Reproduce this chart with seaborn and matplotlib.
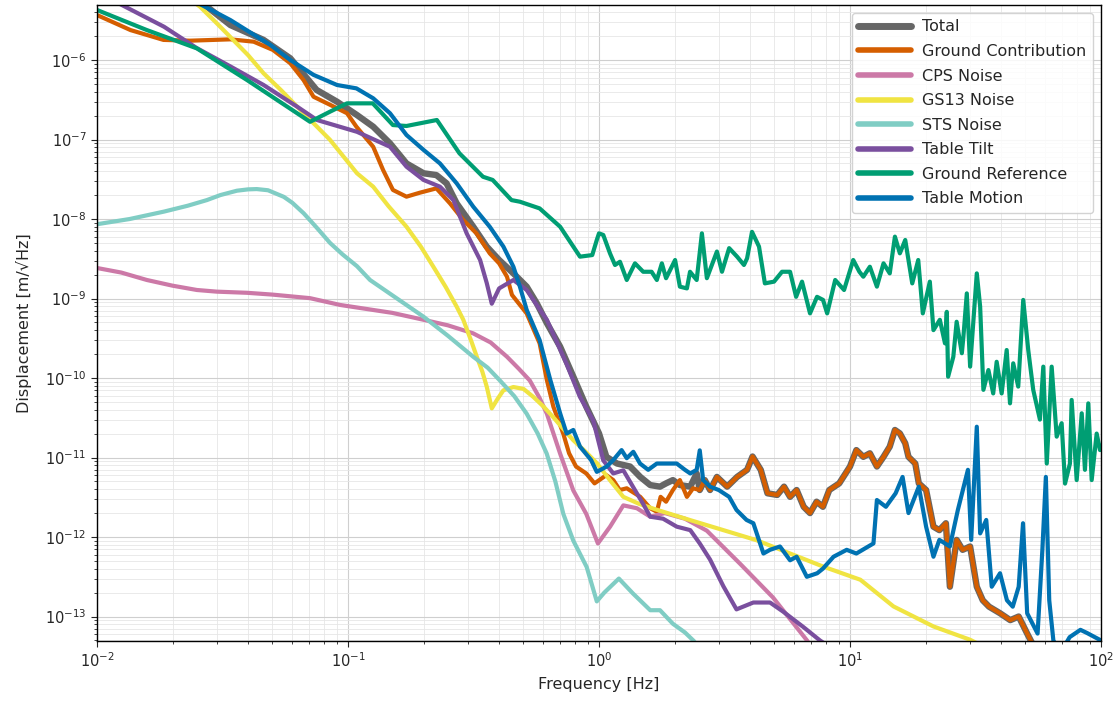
import numpy as np
import pandas as pd
import matplotlib
matplotlib.use("Agg")
import matplotlib.pyplot as plt
import matplotlib.ticker as mticker
import seaborn as sns

# ---------------- data ----------------
total_f = [0.026, 0.0274, 0.034, 0.0461, 0.0589, 0.075, 0.0904, 0.1086, 0.126, 0.147, 0.171, 0.2, 0.225,
           0.247, 0.271, 0.3155, 0.357, 0.40, 0.456, 0.515, 0.565, 0.62, 0.70, 0.79, 0.89, 1.0, 1.07, 1.18,
           1.33, 1.46, 1.60, 1.75, 1.85, 1.97, 2.10, 2.31, 2.45,
           2.52, 2.64, 2.77, 2.95, 3.24, 3.55, 3.89, 4.09, 4.41, 4.69, 5.13, 5.46, 5.77, 6.13, 6.54, 6.93,
           7.36, 7.8, 8.27, 9.06, 10.0, 10.6, 11.3, 12.0, 12.8, 13.6, 14.4, 15.1, 15.8, 16.6, 17.1, 18.2,
           18.8, 20.1, 21.5, 22.7, 24.1, 25.0, 26.6, 28.1, 30.1, 32.0, 33.8, 35.8, 39.6, 43.5, 47.0, 50.8, 53.0]
total_v = [5.2e-6, 4.7e-6, 2.75e-6, 1.79e-6, 1.05e-6, 4.2e-7, 2.99e-7, 2.03e-7, 1.45e-7, 8.95e-8, 5.0e-8,
           3.76e-8, 3.57e-8, 2.81e-8, 1.57e-8, 8.0e-9, 4.5e-9, 3.05e-9, 2.07e-9, 1.41e-9, 8.7e-10, 4.9e-10,
           2.48e-10, 1.04e-10, 4.36e-11, 2.01e-11, 1.02e-11, 8.4e-12, 7.7e-12, 5.7e-12, 4.5e-12, 4.3e-12,
           4.73e-12, 5.2e-12, 4.5e-12, 4.3e-12, 6.3e-12,
           3.9e-12, 5.2e-12, 3.9e-12, 5.7e-12, 4.3e-12, 5.7e-12, 7.0e-12, 1.03e-11, 7.0e-12, 3.55e-12,
           3.38e-12, 4.3e-12, 3.2e-12, 3.9e-12, 2.4e-12, 2.0e-12, 2.78e-12, 2.4e-12, 3.9e-12, 4.73e-12,
           7.7e-12, 1.24e-11, 1.02e-11, 1.13e-11, 7.7e-12, 1.02e-11, 1.37e-11, 2.22e-11, 2.01e-11, 1.51e-11,
           1.02e-11, 8.4e-12, 4.73e-12, 3.9e-12, 1.35e-12, 1.22e-12, 1.49e-12, 2.37e-13, 9.2e-13, 6.9e-13,
           7.6e-13, 2.37e-13, 1.6e-13, 1.33e-13, 1.1e-13, 9.0e-14, 1.0e-13, 6.1e-14, 4.7e-14]

ground_f = [0.01, 0.0136, 0.0184, 0.0235, 0.034, 0.0421, 0.0502, 0.0589, 0.0665, 0.0729, 0.0851, 0.0991,
            0.108, 0.126, 0.138, 0.151, 0.171, 0.193, 0.225, 0.255, 0.288, 0.325, 0.367, 0.40, 0.43, 0.45,
            0.515, 0.58, 0.62, 0.658, 0.72, 0.76, 0.81, 0.89, 0.96, 1.07, 1.14, 1.21, 1.29, 1.46, 1.60, 1.70,
            1.76, 1.85, 1.97, 2.10, 2.24, 2.37, 2.52, 2.64, 2.77, 2.95, 3.24, 3.55, 3.89, 4.09, 4.41, 4.69,
            5.13, 5.46, 5.77, 6.13, 6.54, 6.93, 7.36, 7.8, 8.27, 9.06, 10.0, 10.6, 11.3, 12.0, 12.8, 13.6,
            14.4, 15.1, 15.8, 16.6, 17.1, 18.2, 18.8, 20.1, 21.5, 22.7, 24.1, 25.0, 26.6, 28.1, 30.1, 32.0,
            33.8, 35.8, 39.6, 43.5, 47.0, 50.8, 53.0]
ground_v = [3.68e-6, 2.38e-6, 1.79e-6, 1.75e-6, 1.82e-6, 1.70e-6, 1.34e-6, 9.1e-7, 5.6e-7, 3.45e-7, 2.72e-7,
            2.14e-7, 1.45e-7, 8.1e-8, 4.13e-8, 2.32e-8, 1.91e-8, 2.14e-8, 2.43e-8, 1.57e-8, 9.7e-9, 6.6e-9,
            3.7e-9, 2.77e-9, 1.88e-9, 1.11e-9, 6.5e-10, 2.73e-10, 9.4e-11, 4.36e-11, 2.01e-11, 1.13e-11,
            7.7e-12, 6.3e-12, 4.73e-12, 6.0e-12, 5.2e-12, 3.9e-12, 4.1e-12, 3.2e-12, 2.3e-12, 2.08e-12,
            3.2e-12, 2.78e-12, 3.9e-12, 5.2e-12, 3.2e-12, 4.1e-12, 3.9e-12, 5.2e-12, 3.9e-12, 5.7e-12,
            4.3e-12, 5.7e-12, 7.0e-12, 1.03e-11, 7.0e-12, 3.55e-12, 3.38e-12, 4.3e-12, 3.2e-12, 3.9e-12,
            2.4e-12, 2.0e-12, 2.78e-12, 2.4e-12, 3.9e-12, 4.73e-12, 7.7e-12, 1.24e-11, 1.02e-11, 1.13e-11,
            7.7e-12, 1.02e-11, 1.37e-11, 2.22e-11, 2.01e-11, 1.51e-11, 1.02e-11, 8.4e-12, 4.73e-12, 3.9e-12,
            1.35e-12, 1.22e-12, 1.49e-12, 2.37e-13, 9.2e-13, 6.9e-13, 7.6e-13, 2.37e-13, 1.6e-13, 1.33e-13,
            1.1e-13, 9.0e-14, 1.0e-13, 6.1e-14, 4.7e-14]

cps_f = [0.01, 0.0125, 0.0158, 0.02, 0.025, 0.03, 0.0396, 0.05, 0.0706, 0.093, 0.15, 0.2, 0.25, 0.315,
         0.37, 0.43, 0.48, 0.53, 0.58, 0.62, 0.70, 0.79, 0.89, 0.99, 1.107, 1.25, 1.416, 1.6, 1.83, 2.2,
         2.69, 3.65, 4.93, 6.74, 7.5]
cps_v = [2.42e-9, 2.12e-9, 1.71e-9, 1.45e-9, 1.28e-9, 1.22e-9, 1.18e-9, 1.12e-9, 1.01e-9, 8.3e-10, 6.6e-10,
         5.4e-10, 4.6e-10, 3.65e-10, 2.8e-10, 1.85e-10, 1.3e-10, 9.3e-11, 5.6e-11, 3.55e-11, 1.12e-11,
         3.85e-12, 1.95e-12, 8.3e-13, 1.35e-12, 2.5e-12, 2.3e-12, 1.8e-12, 2.0e-12, 1.7e-12, 1.2e-12,
         4.6e-13, 1.74e-13, 5.0e-14, 3.0e-14]

gs13_f = [0.024, 0.0257, 0.03, 0.0339, 0.04, 0.0461, 0.054, 0.0627, 0.0848, 0.1086, 0.126, 0.145, 0.171,
          0.195, 0.219, 0.245, 0.271, 0.288, 0.31, 0.326, 0.343, 0.357, 0.374, 0.395, 0.416, 0.456, 0.5,
          0.547, 0.6, 0.658, 0.72, 0.79, 0.88, 0.98, 1.1, 1.25, 1.45, 1.70, 2.31, 3.13, 4.25, 5.77, 7.83,
          11.0, 14.9, 21.5, 30.1, 35.0]
gs13_v = [5.5e-6, 4.7e-6, 2.9e-6, 1.96e-6, 1.15e-6, 6.8e-7, 4.2e-7, 2.59e-7, 9.9e-8, 3.76e-8, 2.55e-8,
          1.45e-8, 8.0e-9, 4.5e-9, 2.5e-9, 1.4e-9, 7.9e-10, 5.4e-10, 2.9e-10, 1.85e-10, 1.2e-10, 7.8e-11,
          4.15e-11, 5.5e-11, 7.0e-11, 7.7e-11, 7.3e-11, 5.8e-11, 4.4e-11, 3.2e-11, 2.3e-11, 1.65e-11,
          1.2e-11, 8.5e-12, 5.3e-12, 3.2e-12, 2.6e-12, 2.2e-12, 1.63e-12, 1.22e-12, 9.1e-13, 6.2e-13,
          4.24e-13, 2.9e-13, 1.34e-13, 7.5e-14, 5.1e-14, 4.0e-14]

sts_f = [0.01, 0.0135, 0.0185, 0.023, 0.0274, 0.031, 0.0361, 0.04, 0.0433, 0.048, 0.0555, 0.06, 0.0666,
         0.075, 0.0848, 0.095, 0.1086, 0.1224, 0.15, 0.2, 0.25, 0.3155, 0.36, 0.403, 0.46, 0.515, 0.57,
         0.619, 0.67, 0.721, 0.79, 0.893, 0.98, 1.05, 1.2, 1.365, 1.6, 1.75, 1.97, 2.2, 2.39, 2.6]
sts_v = [8.6e-9, 1.0e-8, 1.24e-8, 1.47e-8, 1.73e-8, 2.0e-8, 2.27e-8, 2.36e-8, 2.38e-8, 2.3e-8, 1.9e-8,
         1.6e-8, 1.18e-8, 7.8e-9, 5.0e-9, 3.6e-9, 2.55e-9, 1.71e-9, 1.1e-9, 5.9e-10, 3.4e-10, 1.85e-10,
         1.35e-10, 9.3e-11, 5.9e-11, 3.56e-11, 2.0e-11, 1.12e-11, 5.0e-12, 1.95e-12, 9.0e-13, 4.2e-13,
         1.55e-13, 2.0e-13, 3.0e-13, 1.95e-13, 1.2e-13, 1.2e-13, 8.1e-14, 6.3e-14, 4.9e-14, 3.0e-14]

tilt_f = [0.012, 0.0185, 0.025, 0.034, 0.0461, 0.0627, 0.0752, 0.1086, 0.147, 0.171, 0.2, 0.2325, 0.263,
          0.297, 0.336, 0.357, 0.374, 0.40, 0.456, 0.515, 0.582, 0.62, 0.743, 0.839, 0.948, 1.04, 1.14, 1.25,
          1.365, 1.50, 1.6, 1.80, 2.04, 2.31, 2.52, 2.77, 3.13, 3.53, 4.12, 4.80, 5.42, 6.51, 7.59, 9.0]
tilt_v = [5.3e-6, 2.62e-6, 1.41e-6, 8.3e-7, 4.85e-7, 2.59e-7, 1.76e-7, 1.25e-7, 8.1e-8, 4.55e-8, 3.1e-8,
          2.55e-8, 1.73e-8, 6.6e-9, 3.05e-9, 1.57e-9, 8.6e-10, 1.34e-9, 1.71e-9, 1.28e-9, 7.2e-10, 5.4e-10,
          1.5e-10, 5.8e-11, 2.93e-11, 9.2e-12, 6.3e-12, 6.9e-12, 4.3e-12, 2.6e-12, 1.8e-12, 1.7e-12,
          1.35e-12, 1.22e-12, 8.3e-13, 5.2e-13, 2.4e-13, 1.23e-13, 1.5e-13, 1.5e-13, 1.15e-13, 7.4e-14,
          5.0e-14, 3.5e-14]

gref_f = [0.01, 0.0158, 0.025, 0.0396, 0.0706, 0.0848, 0.0991, 0.1255, 0.151, 0.171, 0.226, 0.278, 0.345,
          0.377, 0.448, 0.484, 0.58, 0.70, 0.79, 0.84, 0.94, 0.98, 1.0, 1.04, 1.106, 1.158, 1.212, 1.29,
          1.391, 1.50, 1.62, 1.70, 1.78, 1.85, 2.01, 2.10, 2.24, 2.305, 2.45, 2.57, 2.69, 2.95, 3.09, 3.30,
          3.55, 3.78, 3.89, 4.07, 4.34, 4.58, 4.98, 5.36, 5.77, 6.10, 6.44, 6.93, 7.39, 7.81, 8.11, 8.73,
          9.47, 10.3, 10.9, 11.3, 12.0, 12.8, 13.6, 14.4, 15.1, 15.8, 16.6, 17.7, 18.7, 19.5,
          20.8, 21.5, 22.8, 23.9, 24.3, 24.6, 25.8, 26.6, 27.9, 28.3, 29.2, 30.1, 32.0, 33.0, 34.0, 35.6,
          37.2, 38.4, 40.2, 42.1, 43.4, 44.7, 46.8, 49.0, 51.3, 53.7, 57.1, 58.9, 60.8, 63.6, 66.6, 69.7,
          71.9, 75.2, 76.4, 80.0, 83.8, 86.3, 89.0, 91.8, 96.1, 99.1, 100.0]
gref_v = [4.26e-6, 2.38e-6, 1.40e-6, 5.6e-7, 1.67e-7, 2.24e-7, 2.85e-7, 2.85e-7, 1.52e-7, 1.48e-7, 1.76e-7,
          6.7e-8, 3.4e-8, 3.1e-8, 1.73e-8, 1.65e-8, 1.36e-8, 8.0e-9, 4.5e-9, 3.36e-9, 3.52e-9, 5.45e-9,
          6.6e-9, 6.3e-9, 3.7e-9, 2.64e-9, 2.9e-9, 1.71e-9, 2.77e-9, 2.17e-9, 2.17e-9, 1.71e-9, 2.77e-9,
          1.8e-9, 3.05e-9, 1.41e-9, 1.34e-9, 2.17e-9, 1.71e-9, 6.6e-9, 1.8e-9, 3.9e-9, 2.17e-9, 4.3e-9,
          3.36e-9, 2.64e-9, 3.2e-9, 6.9e-9, 4.5e-9, 1.55e-9, 1.63e-9, 2.17e-9, 2.17e-9, 1.05e-9, 1.63e-9,
          6.5e-10, 1.05e-9, 9.6e-10, 6.5e-10, 1.71e-9, 1.28e-9, 3.05e-9, 2.17e-9, 1.88e-9, 2.51e-9, 1.41e-9,
          2.77e-9, 2.07e-9, 6.0e-9, 3.7e-9, 5.45e-9, 1.55e-9, 3.05e-9, 6.5e-10,
          1.63e-9, 4.0e-10, 5.4e-10, 2.73e-10, 6.8e-10, 1.04e-10, 1.85e-10, 5.1e-10, 2.05e-10, 3.3e-10,
          1.16e-9, 1.39e-10, 2.07e-9, 7.9e-10, 7.1e-11, 1.26e-10, 6.4e-11, 1.6e-10, 6.4e-11, 2.25e-10,
          4.8e-11, 1.53e-10, 7.8e-11, 9.6e-10, 2.25e-10, 7.1e-11, 3.0e-11, 1.39e-10, 8.4e-12, 1.39e-10,
          1.83e-11, 2.7e-11, 4.7e-12, 8.4e-12, 5.3e-11, 5.2e-12, 3.6e-11, 7.0e-12, 4.8e-11, 5.2e-12,
          2.0e-11, 1.24e-11, 1.4e-11]

table_f = [0.025, 0.034, 0.049, 0.0589, 0.0729, 0.0904, 0.108, 0.126, 0.147, 0.171, 0.2, 0.2325, 0.271,
           0.3155, 0.367, 0.416, 0.456, 0.484, 0.515, 0.58, 0.64, 0.70, 0.743, 0.79, 0.84, 0.93, 0.98, 1.073,
           1.14, 1.23, 1.29, 1.37, 1.457, 1.57, 1.70, 1.95, 2.04, 2.2, 2.31, 2.45, 2.52, 2.6, 2.77, 3.0, 3.3,
           3.53, 3.87, 4.12, 4.52, 4.80, 5.26, 5.77, 6.13, 6.73, 7.4, 7.8, 8.6, 9.7, 10.6, 12.4, 12.8, 13.9,
           15.2, 16.2, 17.1, 18.8, 20.1, 21.5, 22.7, 25.0, 26.9, 29.5, 30.4, 32.0, 33.0, 34.9, 36.7, 39.6,
           42.2, 44.5, 47.0, 48.9, 50.8, 55.9, 58.4, 60.3, 62.2, 64.6, 69.0, 75.0, 82.8, 88.0, 100.0]
table_v = [5.3e-6, 3.18e-6, 1.55e-6, 1.0e-6, 6.5e-7, 4.85e-7, 4.4e-7, 3.3e-7, 2.14e-7, 1.14e-7, 7.4e-8,
           5.0e-8, 2.81e-8, 1.43e-8, 8.0e-9, 4.5e-9, 2.51e-9, 1.41e-9, 7.2e-10, 3.0e-10, 9.4e-11, 3.6e-11,
           2.0e-11, 2.22e-11, 1.37e-11, 9.3e-12, 6.6e-12, 7.7e-12, 9.3e-12, 1.24e-11, 9.8e-12, 1.18e-11,
           8.4e-12, 7.0e-12, 8.4e-12, 8.4e-12, 8.4e-12, 7.0e-12, 6.3e-12, 7.0e-12, 1.23e-11, 5.2e-12,
           4.3e-12, 3.9e-12, 3.2e-12, 2.19e-12, 1.64e-12, 1.49e-12, 6.2e-13, 6.9e-13, 7.6e-13, 5.1e-13,
           5.65e-13, 3.16e-13, 3.5e-13, 4.0e-13, 5.65e-13, 6.9e-13, 6.2e-13, 8.3e-13, 2.92e-12, 2.4e-12,
           3.55e-12, 5.7e-12, 2.0e-12, 4.3e-12, 1.35e-12, 5.65e-13, 9.2e-13, 7.6e-13, 2.19e-12, 7.0e-12,
           9.2e-13, 2.44e-11, 1.11e-12, 1.64e-12, 2.37e-13, 3.5e-13, 1.6e-13, 1.33e-13, 2.37e-13, 1.49e-12,
           1.1e-13, 6.1e-14, 6.9e-13, 5.7e-12, 1.6e-13, 5.0e-14, 3.5e-14, 5.5e-14, 6.8e-14, 6.2e-14, 5.0e-14]

series_names = ["Total", "Ground Contribution", "CPS Noise", "GS13 Noise", "STS Noise",
                "Table Tilt", "Ground Reference", "Table Motion"]
series_colors = ["#666666", "#D55E00", "#CC79A7", "#F0E442", "#80CDC4", "#7A4F9E", "#009E73", "#0072B2"]
series_lw = [4.6, 3.0, 3.0, 3.0, 3.0, 3.0, 3.0, 3.0]
series_data = [(total_f, total_v), (ground_f, ground_v), (cps_f, cps_v), (gs13_f, gs13_v),
               (sts_f, sts_v), (tilt_f, tilt_v), (gref_f, gref_v), (table_f, table_v)]

y_major_ticks = [1e-13, 1e-12, 1e-11, 1e-10, 1e-9, 1e-8, 1e-7, 1e-6]
x_major_ticks = [1e-2, 1e-1, 1e0, 1e1, 1e2]

# ---------------- plot ----------------
sns.set_style("white")
plt.rcParams["font.family"] = ["DejaVu Sans"]

fig = plt.figure(figsize=(11.16, 7.01), dpi=100)
ax = fig.add_axes([97 / 1116, 1 - 641 / 701, (1101 - 97) / 1116, (641 - 5) / 701])

for name, color, lw, (fx, vy) in zip(series_names, series_colors, series_lw, series_data):
    df = pd.DataFrame({"f": fx, "v": vy})
    sns.lineplot(data=df, x="f", y="v", ax=ax, color=color, linewidth=lw, label=name,
                 sort=False, estimator=None)

ax.set_xscale("log")
ax.set_yscale("log")
ax.yaxis.set_major_locator(mticker.FixedLocator(y_major_ticks))
ax.xaxis.set_major_locator(mticker.FixedLocator(x_major_ticks))
ax.yaxis.set_major_formatter(mticker.LogFormatterSciNotation())
ax.xaxis.set_major_formatter(mticker.LogFormatterSciNotation())
ax.yaxis.set_minor_locator(mticker.LogLocator(base=10, subs=np.arange(2, 10), numticks=100))
ax.xaxis.set_minor_locator(mticker.LogLocator(base=10, subs=np.arange(2, 10), numticks=100))
ax.yaxis.set_minor_formatter(mticker.NullFormatter())
ax.xaxis.set_minor_formatter(mticker.NullFormatter())
ax.set_xlim(1e-2, 1e2)
ax.set_ylim(4.92e-14, 4.92e-6)

ax.grid(True, which="major", color="#cfcfcf", linewidth=0.8)
ax.grid(True, which="minor", color="#e6e6e6", linewidth=0.6)
ax.set_axisbelow(True)
for sp in ax.spines.values():
    sp.set_color("black")
    sp.set_linewidth(1.0)
ax.tick_params(which="both", direction="out", bottom=True, left=True, labelsize=10.5)
ax.tick_params(which="major", length=4)
ax.tick_params(which="minor", length=2)

ax.set_xlabel("Frequency [Hz]", fontsize=11.5, labelpad=5)
ax.set_ylabel("Displacement [m/\u221aHz]", fontsize=11.5, labelpad=9)

leg = ax.legend(loc="upper right", fontsize=11.5, handlelength=3.3, handletextpad=0.7,
                labelspacing=0.6, framealpha=0.85, edgecolor="#cccccc", fancybox=True)
for line in leg.get_lines():
    line.set_linewidth(4.0)
leg.get_lines()[0].set_linewidth(5.0)

fig.savefig("out.png", dpi=100)
